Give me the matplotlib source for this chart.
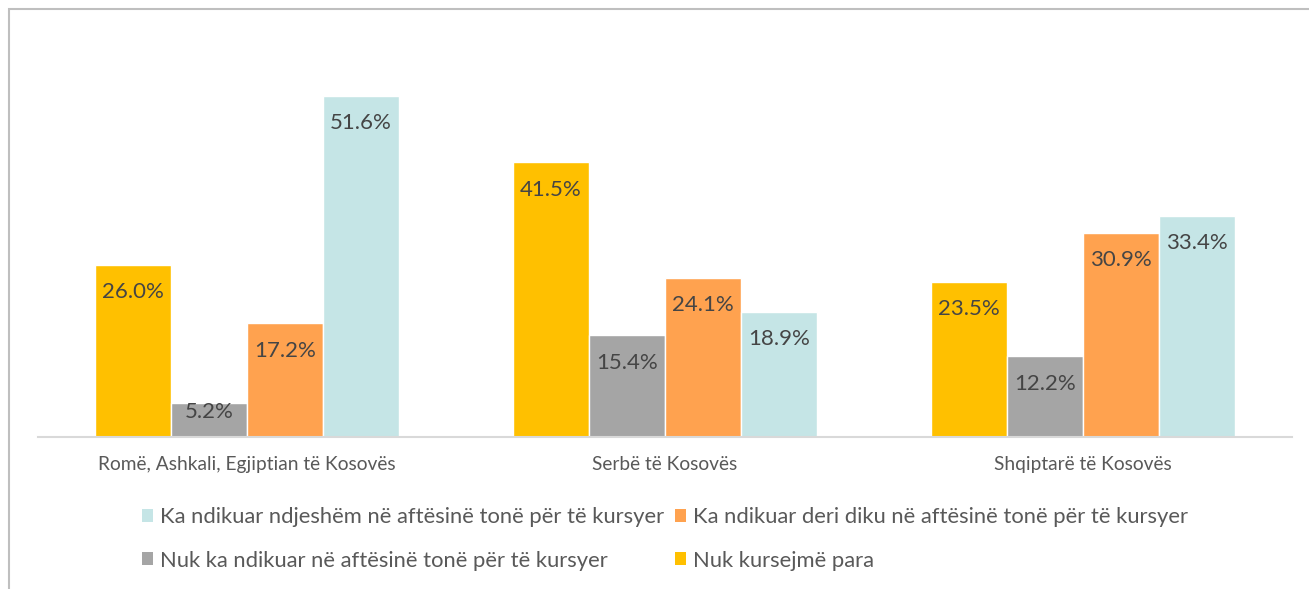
import matplotlib
matplotlib.use("Agg")
import matplotlib.pyplot as plt
import numpy as np
from matplotlib.patches import Patch, Rectangle

plt.rcParams["font.family"] = ["Lato", "DejaVu Sans"]

# categories and series (percent)
categories = ["Romë, Ashkali, Egjiptian të Kosovës", "Serbë të Kosovës", "Shqiptarë të Kosovës"]
series_names = [
    "Nuk kursejmë para",
    "Nuk ka ndikuar në aftësinë tonë për të kursyer",
    "Ka ndikuar deri diku në aftësinë tonë për të kursyer",
    "Ka ndikuar ndjeshëm në aftësinë tonë për të kursyer",
]
nuk_kursejme = [26.0, 41.5, 23.5]
nuk_ka_ndikuar = [5.2, 15.4, 12.2]
deri_diku = [17.2, 24.1, 30.9]
ndjeshem = [51.6, 18.9, 33.4]
colors = ["#FFC000", "#A5A5A5", "#FFA24F", "#C5E5E6"]

W, H = 1309, 589
fig = plt.figure(figsize=(W / 100, H / 100), dpi=100)
ax = fig.add_axes([38 / W, (H - 437) / H, (1292 - 38) / W, (437 - 40) / H])

x = np.arange(len(categories))
width = 1 / 5.5
values = [nuk_kursejme, nuk_ka_ndikuar, deri_diku, ndjeshem]
handles = {}
for i, (name, vals, col) in enumerate(zip(series_names, values, colors)):
    pos = x + (i - 1.5) * width
    ax.bar(pos, vals, width, color=col, edgecolor="white", linewidth=1.0, label=name)
    handles[name] = Patch(facecolor=col, edgecolor="none")
    for p, v in zip(pos, vals):
        off = 4.15 if v > 10 else 1.35
        ax.text(p, v - off, f"{v:.1f}%", ha="center", va="center",
                fontsize=16, color="#454545")

ax.set_xlim(-0.5, 2.5)
ax.set_ylim(0, 60)
ax.set_yticks([])
for s in ["top", "right", "left"]:
    ax.spines[s].set_visible(False)
ax.spines["bottom"].set_color("#D9D9D9")
ax.spines["bottom"].set_linewidth(1.5)
ax.set_xticks(x)
ax.set_xticklabels(categories, fontsize=13.8, color="#595959")
ax.tick_params(axis="x", length=0, pad=14)

# legend: row-major teal, orange / gray, yellow
order = [series_names[3], series_names[1], series_names[2], series_names[0]]
fig.legend([handles[n] for n in order], order, loc="center",
           bbox_to_anchor=(665 / W, 1 - 539 / H), ncol=2, frameon=False,
           fontsize=15.8, labelcolor="#595959", handlelength=0.5,
           handleheight=0.5, handletextpad=0.3, columnspacing=0.5,
           labelspacing=1.05)

# chart frame
fig.add_artist(Rectangle((8.5 / W, -0.1), 1.2, 1.1 - 9.5 / H, transform=fig.transFigure,
                         fill=False, edgecolor="#BFBFBF", linewidth=1.5, clip_on=False))

fig.savefig("out.png", dpi=100)
